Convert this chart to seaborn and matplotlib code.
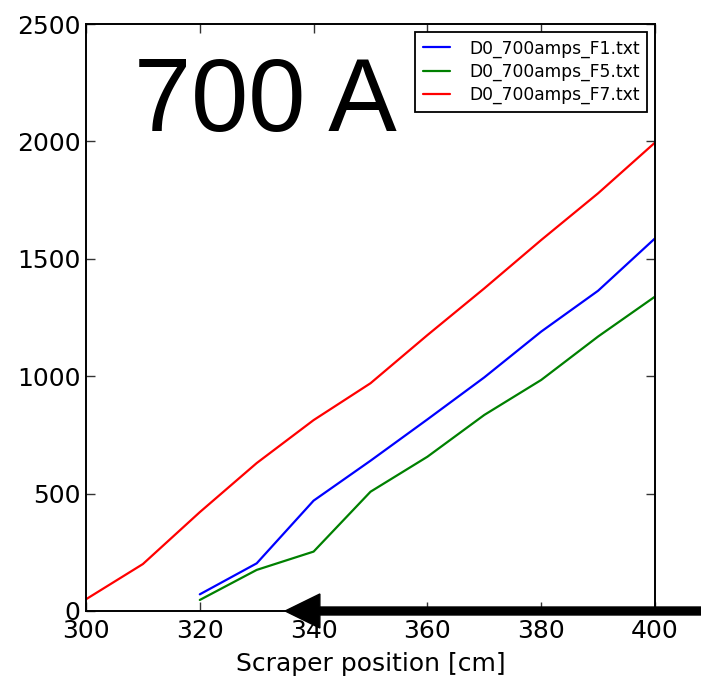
import matplotlib
matplotlib.use("Agg")
import matplotlib.pyplot as plt
import seaborn as sns
import pandas as pd

# Scraper scans at 700 A
x_f7 = [300, 310, 320, 330, 340, 350, 360, 370, 380, 390, 400]
y_f7 = [50, 200, 421, 630, 813, 970, 1175, 1374, 1580, 1779, 1995]

x_f1 = [320, 330, 340, 350, 360, 370, 380, 390, 400]
y_f1 = [71, 203, 470, 640, 816, 995, 1190, 1364, 1587]

x_f5 = [320, 330, 340, 350, 360, 370, 380, 390, 400]
y_f5 = [47, 175, 253, 508, 657, 835, 984, 1169, 1339]

series_names = ["D0_700amps_F1.txt", "D0_700amps_F5.txt", "D0_700amps_F7.txt"]
series_colors = ["#0000ff", "#008000", "#ff0000"]

x_ticks = [300, 320, 340, 360, 380, 400]
y_ticks = [0, 500, 1000, 1500, 2000, 2500]

frames = []
for name, xs, ys in zip(series_names, [x_f1, x_f5, x_f7], [y_f1, y_f5, y_f7]):
    frames.append(pd.DataFrame({"pos": xs, "val": ys, "file": name}))
df = pd.concat(frames, ignore_index=True)

sns.set_style("white")
plt.rcParams["font.family"] = ["DejaVu Sans"]
plt.rcParams["text.color"] = "black"
plt.rcParams["axes.labelcolor"] = "black"
plt.rcParams["xtick.color"] = "black"
plt.rcParams["ytick.color"] = "black"

W, H = 701, 681
fig = plt.figure(figsize=(W / 100, H / 100), dpi=100)
left, right, top, bottom = 86, 655, 24, 611
ax = fig.add_axes([left / W, 1 - bottom / H, (right - left) / W, (bottom - top) / H])

sns.lineplot(data=df, x="pos", y="val", hue="file", hue_order=series_names,
             palette=series_colors, linewidth=1.6, ax=ax, legend=False,
             estimator=None, sort=False)

ax.set_xlim(300, 400)
ax.set_ylim(0, 2500)
ax.set_xticks(x_ticks)
ax.set_yticks(y_ticks)
ax.tick_params(axis="both", which="major", direction="in", length=6.5, width=1.0,
               color="#333333", labelcolor="black", labelsize=18, top=True,
               right=True, bottom=True, left=True)
ax.tick_params(axis="x", pad=6)
ax.tick_params(axis="y", pad=4)
for s in ax.spines.values():
    s.set_visible(True)
    s.set_color("black")
    s.set_linewidth(1.4)

ax.set_xlabel("Scraper position [cm]", fontsize=18, labelpad=6, color="black")
ax.set_ylabel("")

handles = [plt.Line2D([], [], color=c, lw=1.6) for c in series_colors]
leg = ax.legend(handles, series_names, loc="upper right", fontsize=12.3,
                frameon=True, fancybox=False, framealpha=1, edgecolor="black",
                borderaxespad=0.45, handlelength=1.6, handletextpad=1.1,
                labelspacing=0.3, borderpad=0.45)
leg.get_frame().set_linewidth(1.3)
for t in leg.get_texts():
    t.set_color("black")

ax.text(0.085, 0.818, "700 A", transform=ax.transAxes, fontsize=74,
        family=["Liberation Sans", "DejaVu Sans"], color="black",
        ha="left", va="baseline")

# Scan direction arrow along the bottom axis
ax.arrow(415, 0, 335 - 415, 0, width=34, head_width=145, head_length=6.1,
         length_includes_head=True, color="black", clip_on=False, zorder=5)

fig.savefig("out.png", dpi=100, facecolor="white")
